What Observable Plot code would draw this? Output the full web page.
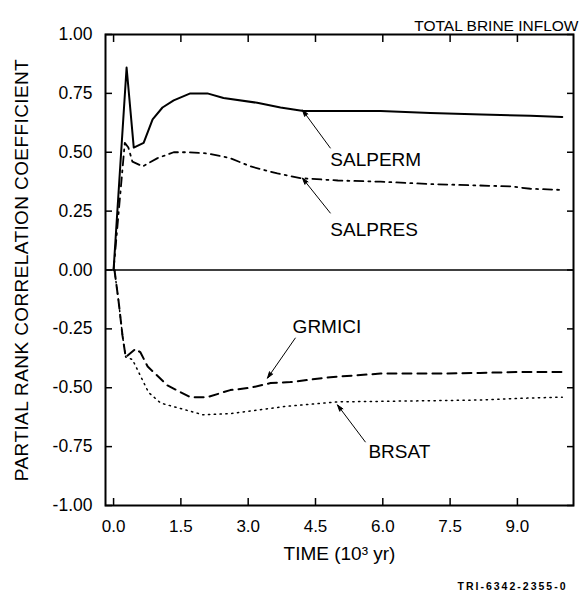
<!DOCTYPE html>
<html>
<head>
<meta charset="utf-8">
<script src="https://cdn.jsdelivr.net/npm/d3@7"></script>
<script src="https://cdn.jsdelivr.net/npm/@observablehq/plot@0.6"></script>
<style>
  html, body { margin: 0; padding: 0; background: #fff; }
  #chart svg { display: block; }
  .caption-mark text { letter-spacing: 2px; }
  .ylabel-mark text { letter-spacing: 0.4px; }
</style>
</head>
<body>
<div id="chart"></div>
<script>
// ---- Data ----
const salpermTime = [0, 0.29, 0.45, 0.67, 0.87, 1.09, 1.34, 1.71, 2.09, 2.45, 3.2, 3.72, 4.23, 5.0, 5.95, 7.06, 8.2, 9.29, 10.0];
const salpermPRCC = [0, 0.86, 0.52, 0.54, 0.64, 0.69, 0.72, 0.75, 0.75, 0.73, 0.71, 0.69, 0.675, 0.675, 0.675, 0.667, 0.66, 0.655, 0.65];

const salpresTime = [0, 0.25, 0.33, 0.42, 0.65, 0.98, 1.34, 1.64, 2.09, 2.6, 3.05, 3.65, 4.16, 5.0, 5.95, 7.06, 8.84, 9.29, 10.0];
const salpresPRCC = [0, 0.54, 0.52, 0.46, 0.44, 0.475, 0.50, 0.50, 0.495, 0.475, 0.44, 0.41, 0.39, 0.38, 0.375, 0.365, 0.355, 0.345, 0.34];

const grmiciTime = [0.02, 0.11, 0.2, 0.27, 0.49, 0.6, 0.76, 1.2, 1.71, 2.09, 2.6, 3.05, 3.5, 3.94, 4.83, 5.95, 7.06, 8.17, 9.06, 10.0];
const grmiciPRCC = [0, -0.13, -0.28, -0.37, -0.335, -0.35, -0.41, -0.49, -0.54, -0.54, -0.51, -0.50, -0.48, -0.476, -0.455, -0.44, -0.44, -0.437, -0.433, -0.433];

const brsatTime = [0.02, 0.11, 0.2, 0.27, 0.42, 0.6, 0.78, 1.05, 1.43, 2.0, 2.6, 3.2, 3.79, 4.99, 6.68, 8.17, 9.22, 10.0];
const brsatPRCC = [0, -0.13, -0.28, -0.37, -0.38, -0.45, -0.52, -0.565, -0.585, -0.615, -0.61, -0.595, -0.58, -0.56, -0.556, -0.552, -0.544, -0.54];

const xTicks = [0, 1.5, 3.0, 4.5, 6.0, 7.5, 9.0];
const yTicks = [1.0, 0.75, 0.5, 0.25, 0, -0.25, -0.5, -0.75, -1.0];

// series labels and their pointer arrows (data coordinates)
const labelNames = ["SALPERM", "SALPRES", "GRMICI", "BRSAT"];
const labelTime  = [4.83, 4.83, 3.99, 5.68];
const labelPRCC  = [0.467, 0.17, -0.242, -0.773];
const arrowFromTime = [4.83, 4.83, 4.05, 5.61];
const arrowFromPRCC = [0.518, 0.242, -0.289, -0.73];
const arrowToTime   = [4.21, 4.21, 3.43, 4.99];
const arrowToPRCC   = [0.679, 0.39, -0.459, -0.573];

const titleText = "TOTAL BRINE INFLOW";
const xLabel = "TIME (10³ yr)";
const yLabel = "PARTIAL RANK CORRELATION COEFFICIENT";
const captionText = "TRI-6342-2355-0";

// ---- Build tables ----
const toRows = (t, v) => t.map((d, i) => ({time: d, prcc: v[i]}));
const salperm = toRows(salpermTime, salpermPRCC);
const salpres = toRows(salpresTime, salpresPRCC);
const grmici = toRows(grmiciTime, grmiciPRCC);
const brsat = toRows(brsatTime, brsatPRCC);
const labels = labelNames.map((n, i) => ({name: n, time: labelTime[i], prcc: labelPRCC[i]}));
const arrows = labelNames.map((n, i) => ({x1: arrowFromTime[i], y1: arrowFromPRCC[i], x2: arrowToTime[i], y2: arrowToPRCC[i]}));

const font = "'Liberation Sans', Arial, Helvetica, sans-serif";

const chart = Plot.plot({
  width: 582,
  height: 593,
  marginLeft: 105,
  marginRight: 9,
  marginTop: 34,
  marginBottom: 88,
  style: {fontFamily: font, fontSize: "17px", color: "black", background: "white"},
  x: {domain: [-0.18, 10.25]},
  y: {domain: [-1, 1]},
  marks: [
    Plot.frame({stroke: "black", strokeWidth: 2}),
    Plot.ruleY([0], {stroke: "black", strokeWidth: 1.5}),
    Plot.axisX(xTicks, {anchor: "bottom", tickSize: -7, tickPadding: 21, strokeWidth: 1.5,
      tickFormat: d => d.toFixed(1), label: null, fontSize: 17}),
    Plot.axisX(xTicks, {anchor: "top", tickSize: -7, strokeWidth: 1.5, tickFormat: () => "", label: null}),
    Plot.axisY(yTicks, {anchor: "left", tickSize: -7, tickPadding: 20, strokeWidth: 1.5,
      tickFormat: d => d.toFixed(2), label: null, fontSize: 17.5}),
    Plot.axisY(yTicks, {anchor: "right", tickSize: -7, strokeWidth: 1.5, tickFormat: () => "", label: null}),
    Plot.line(salperm, {x: "time", y: "prcc", stroke: "black", strokeWidth: 2}),
    Plot.line(salpres, {x: "time", y: "prcc", stroke: "black", strokeWidth: 1.8, strokeDasharray: "9,5,2,5"}),
    Plot.line(grmici, {x: "time", y: "prcc", stroke: "black", strokeWidth: 2, strokeDasharray: "9,6"}),
    Plot.line(brsat, {x: "time", y: "prcc", stroke: "black", strokeWidth: 1.5, strokeDasharray: "1.3,4.5"}),
    Plot.arrow(arrows, {x1: "x1", y1: "y1", x2: "x2", y2: "y2", stroke: "black", fill: "black",
      strokeWidth: 1, headLength: 10, headAngle: 35}),
    Plot.text(labels, {x: "time", y: "prcc", text: "name", textAnchor: "start", fontSize: 19}),
    Plot.text([titleText], {frameAnchor: "top-right", textAnchor: "end", dx: 5, dy: -15, fontSize: 15.5}),
    Plot.text([xLabel], {frameAnchor: "bottom", dy: 54, fontSize: 19}),
    Plot.text([yLabel], {frameAnchor: "left", textAnchor: "middle", rotate: -90, dx: -84, fontSize: 19,
      className: "ylabel-mark"}),
    Plot.text([captionText], {frameAnchor: "bottom-right", textAnchor: "end", dx: -6, dy: 84,
      fontSize: 10.5, fontWeight: "bold", className: "caption-mark"})
  ]
});
document.getElementById("chart").appendChild(chart);
</script>
</body>
</html>
